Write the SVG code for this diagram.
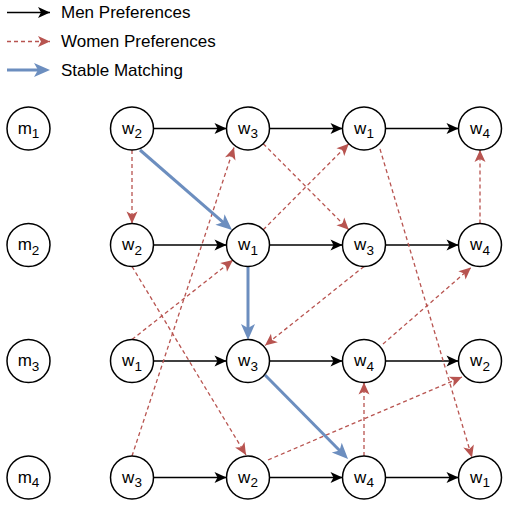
<svg xmlns="http://www.w3.org/2000/svg" width="513" height="508" viewBox="0 0 513 508">
<style>
.node circle{fill:#fff;stroke:#000;stroke-width:1.5}
.node text{font-family:"Liberation Sans",Arial,sans-serif;font-size:17px;fill:#000;text-anchor:middle}
.node .s{font-size:13.5px}
.men{stroke:#000;stroke-width:1.5;fill:none;marker-end:url(#ab)}
.women{stroke:#b85450;stroke-width:1.3;stroke-dasharray:4 3;fill:none;marker-end:url(#ar)}
.stable{stroke:#6c8ebf;stroke-width:3;fill:none;marker-end:url(#abl)}
.legend text{font-family:"Liberation Sans",Arial,sans-serif;font-size:17px;fill:#000}
</style>
<defs>
<marker id="ab" markerUnits="userSpaceOnUse" viewBox="-13 -7 14 14" markerWidth="14" markerHeight="14" refX="0" refY="0" orient="auto"><path d="M0,0 L-12,-5.5 L-9,0 L-12,5.5 Z" fill="#000"/></marker>
<marker id="ar" markerUnits="userSpaceOnUse" viewBox="-13 -7 14 14" markerWidth="14" markerHeight="14" refX="0" refY="0" orient="auto"><path d="M0,0 L-12,-5.5 L-9,0 L-12,5.5 Z" fill="#b85450"/></marker>
<marker id="abl" markerUnits="userSpaceOnUse" viewBox="-17 -8 18 16" markerWidth="18" markerHeight="16" refX="-6" refY="0" orient="auto"><path d="M0,0 L-16,-7 L-12,0 L-16,7 Z" fill="#6c8ebf"/></marker>
</defs>
<g id="legend" class="legend">
<line class="men" x1="7" y1="12.5" x2="50" y2="12.5"/>
<text x="61" y="18">Men Preferences</text>
<line class="women" x1="7" y1="41.5" x2="50" y2="41.5"/>
<text x="61" y="47">Women Preferences</text>
<line class="stable" x1="7" y1="70" x2="44" y2="70"/>
<text x="61" y="75.5">Stable Matching</text>
</g>
<g id="connectors">
<g id="men-edges">
<line class="men" x1="153.5" y1="128.5" x2="226.5" y2="128.5"/>
<line class="men" x1="269.5" y1="128.5" x2="342.5" y2="128.5"/>
<line class="men" x1="385.5" y1="128.5" x2="458.5" y2="128.5"/>
<line class="men" x1="153.5" y1="245" x2="226.5" y2="245"/>
<line class="men" x1="269.5" y1="245" x2="342.5" y2="245"/>
<line class="men" x1="385.5" y1="245" x2="458.5" y2="245"/>
<line class="men" x1="153.5" y1="361" x2="226.5" y2="361"/>
<line class="men" x1="269.5" y1="361" x2="342.5" y2="361"/>
<line class="men" x1="385.5" y1="361" x2="458.5" y2="361"/>
<line class="men" x1="153.5" y1="477.5" x2="226.5" y2="477.5"/>
<line class="men" x1="269.5" y1="477.5" x2="342.5" y2="477.5"/>
<line class="men" x1="385.5" y1="477.5" x2="458.5" y2="477.5"/>
</g>
<g id="women-edges">
<line class="women" x1="132" y1="150" x2="132" y2="223.5"/>
<line class="women" x1="132" y1="456" x2="234" y2="147.5"/>
<line class="women" x1="132" y1="339.5" x2="233" y2="260"/>
<line class="women" x1="132" y1="266.5" x2="246" y2="455"/>
<line class="women" x1="263.2" y1="143.7" x2="348.8" y2="229.8"/>
<line class="women" x1="263.2" y1="229.8" x2="348.8" y2="143.7"/>
<line class="women" x1="380" y1="149" x2="472" y2="457.5"/>
<line class="women" x1="480" y1="223.5" x2="480" y2="150"/>
<line class="women" x1="364" y1="266.5" x2="265" y2="345.5"/>
<line class="women" x1="383" y1="344" x2="471" y2="267.5"/>
<line class="women" x1="268" y1="460" x2="462" y2="377"/>
<line class="women" x1="364" y1="456" x2="364" y2="382.5"/>
</g>
<g id="stable-edges">
<line class="stable" x1="140" y1="150" x2="227.5" y2="226.1"/>
<line class="stable" x1="248" y1="266.5" x2="248" y2="334"/>
<line class="stable" x1="265" y1="375" x2="343.8" y2="454.7"/>
</g>
</g>
<g id="m1" class="node"><circle cx="28.5" cy="128.5" r="21.5"/><text x="28.5" y="133.5">m<tspan class="s" dy="4.5">1</tspan></text></g>
<g id="m2" class="node"><circle cx="28.5" cy="245" r="21.5"/><text x="28.5" y="250">m<tspan class="s" dy="4.5">2</tspan></text></g>
<g id="m3" class="node"><circle cx="28.5" cy="361" r="21.5"/><text x="28.5" y="366">m<tspan class="s" dy="4.5">3</tspan></text></g>
<g id="m4" class="node"><circle cx="28.5" cy="477.5" r="21.5"/><text x="28.5" y="482.5">m<tspan class="s" dy="4.5">4</tspan></text></g>
<g id="m1-w2" class="node"><circle cx="132" cy="128.5" r="21.5"/><text x="132" y="133.5">w<tspan class="s" dy="4.5">2</tspan></text></g>
<g id="m1-w3" class="node"><circle cx="248" cy="128.5" r="21.5"/><text x="248" y="133.5">w<tspan class="s" dy="4.5">3</tspan></text></g>
<g id="m1-w1" class="node"><circle cx="364" cy="128.5" r="21.5"/><text x="364" y="133.5">w<tspan class="s" dy="4.5">1</tspan></text></g>
<g id="m1-w4" class="node"><circle cx="480" cy="128.5" r="21.5"/><text x="480" y="133.5">w<tspan class="s" dy="4.5">4</tspan></text></g>
<g id="m2-w2" class="node"><circle cx="132" cy="245" r="21.5"/><text x="132" y="250">w<tspan class="s" dy="4.5">2</tspan></text></g>
<g id="m2-w1" class="node"><circle cx="248" cy="245" r="21.5"/><text x="248" y="250">w<tspan class="s" dy="4.5">1</tspan></text></g>
<g id="m2-w3" class="node"><circle cx="364" cy="245" r="21.5"/><text x="364" y="250">w<tspan class="s" dy="4.5">3</tspan></text></g>
<g id="m2-w4" class="node"><circle cx="480" cy="245" r="21.5"/><text x="480" y="250">w<tspan class="s" dy="4.5">4</tspan></text></g>
<g id="m3-w1" class="node"><circle cx="132" cy="361" r="21.5"/><text x="132" y="366">w<tspan class="s" dy="4.5">1</tspan></text></g>
<g id="m3-w3" class="node"><circle cx="248" cy="361" r="21.5"/><text x="248" y="366">w<tspan class="s" dy="4.5">3</tspan></text></g>
<g id="m3-w4" class="node"><circle cx="364" cy="361" r="21.5"/><text x="364" y="366">w<tspan class="s" dy="4.5">4</tspan></text></g>
<g id="m3-w2" class="node"><circle cx="480" cy="361" r="21.5"/><text x="480" y="366">w<tspan class="s" dy="4.5">2</tspan></text></g>
<g id="m4-w3" class="node"><circle cx="132" cy="477.5" r="21.5"/><text x="132" y="482.5">w<tspan class="s" dy="4.5">3</tspan></text></g>
<g id="m4-w2" class="node"><circle cx="248" cy="477.5" r="21.5"/><text x="248" y="482.5">w<tspan class="s" dy="4.5">2</tspan></text></g>
<g id="m4-w4" class="node"><circle cx="364" cy="477.5" r="21.5"/><text x="364" y="482.5">w<tspan class="s" dy="4.5">4</tspan></text></g>
<g id="m4-w1" class="node"><circle cx="480" cy="477.5" r="21.5"/><text x="480" y="482.5">w<tspan class="s" dy="4.5">1</tspan></text></g>
</svg>
